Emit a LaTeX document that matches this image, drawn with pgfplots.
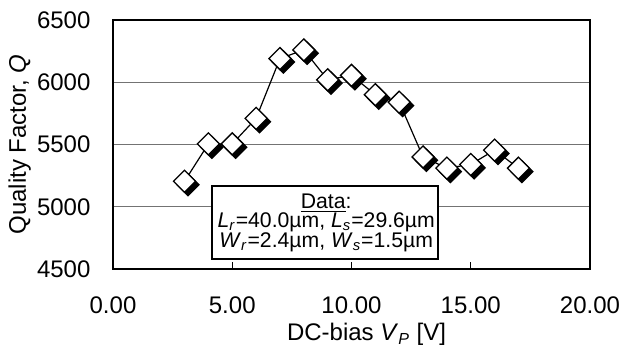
\documentclass[border=0pt]{standalone}
\usepackage{fontspec}
\setmainfont{Liberation Sans}
\usepackage{pgfplots}
\pgfplotsset{compat=1.18}
\pgfdeclareplotmark{shdiamond}{%
  \pgfsetlinewidth{0.65pt}%
  \pgfsetfillcolor{black}\pgfsetstrokecolor{black}%
  \pgfpathmoveto{\pgfqpoint{7.2pt}{-1.7pt}}%
  \pgfpathlineto{\pgfqpoint{1.7pt}{3.8pt}}%
  \pgfpathlineto{\pgfqpoint{-3.8pt}{-1.7pt}}%
  \pgfpathlineto{\pgfqpoint{1.7pt}{-7.2pt}}%
  \pgfpathclose
  \pgfusepath{fill,stroke}%
  \pgfsetfillcolor{white}%
  \pgfpathmoveto{\pgfqpoint{5.5pt}{0pt}}%
  \pgfpathlineto{\pgfqpoint{0pt}{5.5pt}}%
  \pgfpathlineto{\pgfqpoint{-5.5pt}{0pt}}%
  \pgfpathlineto{\pgfqpoint{0pt}{-5.5pt}}%
  \pgfpathclose
  \pgfusepath{fill,stroke}%
}
\begin{document}
\begin{tikzpicture}
\begin{axis}[
  scale only axis,
  width=238.5pt, height=124.5pt,
  xmin=0, xmax=20, ymin=4500, ymax=6500,
  xtick={0,5,10,15,20}, ytick={4500,5000,5500,6000,6500},
  ymajorgrids,
  grid style={draw=black!55, line width=0.5pt},
  axis line style={line width=1.4pt},
  tick align=inside,
  xtick pos=lower,
  ytick pos=left,
  major tick length=3.5pt,
  xtick style={line width=0.5pt, black},
  ytick style={draw=none},
  /pgf/number format/assume math mode=true,
  xticklabel style={/pgf/number format/fixed, /pgf/number format/fixed zerofill, /pgf/number format/precision=2},
  yticklabel style={/pgf/number format/1000 sep={}},
  xticklabel style={anchor=base, yshift=-22.2pt, inner sep=0pt},
  yticklabel style={anchor=east, xshift=-11.1pt, inner sep=0pt},
  tick label style={font=\fontsize{12}{14}\selectfont},
  label style={font=\fontsize{12}{14}\selectfont},
  xlabel={DC-bias \textit{V}\textsubscript{\textit{P}} [V]},
  xlabel style={at={(axis description cs:0.5314,-0.2876)}, anchor=base, inner sep=0pt},
  ylabel={Quality Factor, \textit{Q}},
  ylabel style={at={(axis description cs:-0.1824,0.5)}, anchor=base, inner sep=0pt},
  clip=false,
]
\addplot[black, line width=0.6pt, mark=shdiamond] coordinates {
  (3,5205) (4,5505) (5,5505) (6,5710) (7,6190) (8,6260) (9,6020) (10,6055)
  (11,5900) (12,5840) (13,5400) (14,5310) (15,5340) (16,5455) (17,5310)
};
\draw[line width=1pt, fill=white] (axis cs:4.15,4580) rectangle (axis cs:13.63,5167);
\node[anchor=north, inner sep=0pt, align=center, font=\fontsize{10.6}{9.8}\selectfont]
  at (axis cs:8.94,5110)
  {\underline{Data}:\\
   \textit{L}\textsubscript{\textit{r}}=40.0µm, \textit{L}\textsubscript{\textit{s}}=29.6µm\\
   \textit{W}\textsubscript{\textit{r}}=2.4µm, \textit{W}\textsubscript{\textit{s}}=1.5µm};
\end{axis}
\path[use as bounding box] (-56.5pt,-40.5pt) rectangle (255.5pt,134.5pt);
\end{tikzpicture}
\end{document}
